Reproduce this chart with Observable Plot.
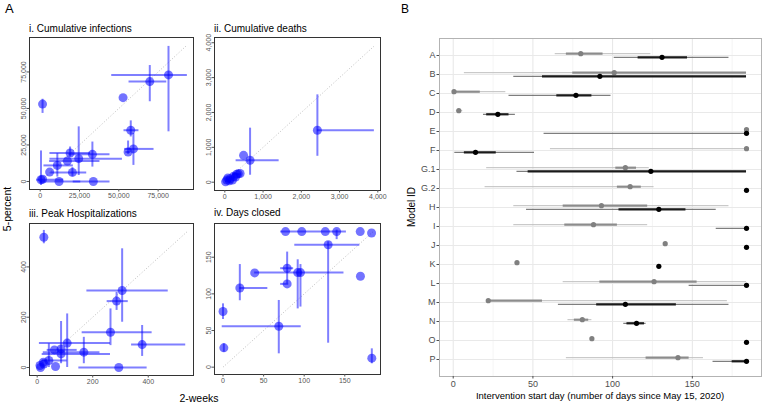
<!DOCTYPE html>
<html><head><meta charset="utf-8">
<script src="https://cdn.jsdelivr.net/npm/d3@7"></script>
<script src="https://cdn.jsdelivr.net/npm/@observablehq/plot@0.6"></script>
<style>
body{margin:0;background:#fff;}
#root{position:relative;width:764px;height:405px;overflow:hidden;background:#fff;font-family:"Liberation Sans",Arial,Helvetica,sans-serif;}
.lbl{position:absolute;white-space:nowrap;color:#000;line-height:1;}
</style></head><body><div id="root"></div>
<script>
// ---------- Panel A data ----------
const panelTitles = ["i. Cumulative infections", "ii. Cumulative deaths", "iii. Peak Hospitalizations", "iv. Days closed"];

// i. Cumulative infections (x = 2-weeks, y = 5-percent)
const iX   = [1500, 52700, 69700, 81600, 57600, 59300, 55900, 19000, 33200, 24500, 17300, 10900, 6000, 20500, 500, 12000, 33800, 1500];
const iY   = [53000, 57400, 68400, 73000, 35100, 22300, 20200, 19500, 18600, 15600, 14000, 11000, 6400, 6200, 1200, 0, 0, 1500];
const iXlo = [null, null, 56500, 45500, 53300, 53700, 54500, 6200, 18300, 6200, 6000, 2400, null, 6700, -2200, 300, 21000, null];
const iXhi = [null, null, 80500, 93600, 62800, 72400, 57500, 32100, 44400, 52300, 38000, 21100, null, 29600, 15000, 25800, 44400, null];
const iYlo = [46600, null, 54600, 34000, 30500, 11000, 18600, 16700, 9850, 4100, null, 3000, null, 3500, -2700, null, null, null];
const iYhi = [56300, null, 79400, 92500, 41500, 32800, 27700, 23600, 27000, 37400, null, 19000, null, 9500, 20900, null, null, null];

// ii. Cumulative deaths
const iiX   = [2420, 660, 490, 20, 50, 140, 230, 310, 400, 120, 80, 200, 280, 350];
const iiY   = [1490, 630, 770, 10, 60, 100, 170, 230, 250, 40, 120, 60, 150, 240];
const iiXlo = [2420, 295, null, null, null, null, null, 200, null, null, null, null, null, null];
const iiXhi = [3910, 1420, null, null, null, null, null, 430, null, null, null, null, null, null];
const iiYlo = [743, 200, null, null, null, null, 80, null, null, null, null, null, null, null];
const iiYhi = [2505, 1550, null, null, null, null, 260, null, null, null, null, null, null, null];

// iii. Peak Hospitalizations
const iiiX   = [24, 306, 286, 264, 378, 108, 168, 294, 86, 86, 62, 42, 66, 22, 12, 24, 10];
const iiiY   = [518, 306, 264, 140, 91, 97, 61, 0, 74, 54, 70, 28, 4, 21, 0, 14, 8];
const iiiXlo = [null, 179, 252, 162, 340, 8, 22, 150, null, 18, 36, 18, null, null, null, null, null];
const iiiXhi = [null, 472, 328, 414, 535, 264, 226, 396, null, 264, 144, 108, null, null, null, null, null];
const iiiYlo = [492, 180, 227, 87, 44, 0, 15, null, 15, null, null, 0, null, null, null, null, null];
const iiiYhi = [545, 472, 299, 233, 167, 213, 120, null, 183, null, null, 94, null, null, null, null, null];

// iv. Days closed
const ivX   = [77, 97, 126, 140, 169, 183, 129.5, 79, 79, 39, 92, 95.4, 20.7, 0, 1, 68.7, 169.3, 183.3];
const ivY   = [185, 185, 185, 185, 185, 183, 167, 135, 113.6, 128.6, 129, 129, 108, 76, 26.4, 55.9, 124, 12.3];
const ivXlo = [null, 71, null, null, null, null, 88.4, 71, 71, null, 39, null, 20.7, null, null, -1, null, null];
const ivXhi = [null, 152, null, null, null, null, 168.5, 87, 81, null, 149, null, 55.2, null, null, 96.3, null, null];
const ivYlo = [null, null, null, 174, null, null, 32.7, 113.6, null, null, 79.5, 82, 90.6, 65, 20.4, 18.2, null, 4.6];
const ivYhi = [null, null, null, 187, null, null, 171, 157, null, null, 146.5, 140, 140, 86.4, 32, 91, null, 25];

const ticksA = [[0, 25000, 50000, 75000], [0, 1000, 2000, 3000, 4000], [0, 200, 400], [0, 50, 100, 150]];
const diagMax = [93000, 3900, 540, 186];

// ---------- Panel B data ----------
const models = ["A","B","C","D","E","F","G.1","G.2","H","I","J","K","L","M","N","O","P"];
const gPt   = [80, 101, 0.5, 3.5, 184, 184, 108, 111, 93, 88, 133, 40, 126, 22, 81, 87, 141];
const gLo50 = [71, 75, 0.5, null, null, null, 102, 103, 69, 70, null, null, 92, 22, 76, null, 121];
const gHi50 = [94, 184, 17, null, null, null, 115, 118, 122, 103, null, null, 153, 56, 85, null, 148];
const gLo95 = [64, 7, 0.5, 2, null, 61, 21, 20, 38, 38, null, null, 69, 22, 72, null, 71];
const gHi95 = [124, 184, 33, 6, null, 184, 123, 126, 173, 122, null, null, 184, 172, 87, null, 157];
const kPt   = [131, 92, 77, 28, 184, 14, 124, 184, 129, 184, 184, 129, 184, 108, 115, 184, 184];
const kLo50 = [116, 56, 65, 21, null, 7, 47, null, 104, null, null, null, null, 90, 109, null, 175];
const kHi50 = [147, 184, 87, 35, null, 27, 184, null, 146, null, null, null, null, 140, 120, null, 184];
const kLo95 = [101, 38, 35, 19, 57, 1, 40, null, 46, 165, null, null, 148, 66, 107, null, 163];
const kHi95 = [173, 184, 99, 39, 184, 51, 184, null, 165, 184, null, null, 184, 173, 121, null, 184];
const bTicks = [0, 50, 100, 150];
const bMinor = [25, 75, 125, 175];

// ---------- layout ----------
const FONT = "'Liberation Sans', Arial, Helvetica, sans-serif";
const root = document.getElementById("root");
const fmt = d3.format(",");

function place(el, left, top) {
  el.style.position = "absolute";
  el.style.left = left + "px";
  el.style.top = top + "px";
  root.appendChild(el);
}
function label(text, {x, y, size, rotate = false, center = false}) {
  const d = document.createElement("div");
  d.className = "lbl";
  d.textContent = text;
  d.style.fontSize = size + "px";
  d.style.left = x + "px";
  d.style.top = y + "px";
  if (rotate) d.style.transform = "translate(-50%,-50%) rotate(-90deg)";
  else if (center) d.style.transform = "translateX(-50%)";
  root.appendChild(d);
}

const framesA = [[29, 193, 37, 189], [214, 380, 37, 190], [29, 193, 223, 375], [214, 380, 223, 374]];
const domainsA = [
  {x: [-6800, 97500], y: [-5500, 98600]},
  {x: [-270, 4070], y: [-238, 4150]},
  {x: [-27.7, 563], y: [-31.8, 572.6]},
  {x: [-10.5, 194], y: [-10, 196]}
];
const dataA = [
  [iX, iY, iXlo, iXhi, iYlo, iYhi],
  [iiX, iiY, iiXlo, iiXhi, iiYlo, iiYhi],
  [iiiX, iiiY, iiiXlo, iiiXhi, iiiYlo, iiiYhi],
  [ivX, ivY, ivXlo, ivXhi, ivYlo, ivYhi]
];

framesA.forEach((fr, k) => {
  const [x0, x1, y0, y1] = fr;
  const padL = 19, padR = 5, padT = 6, padB = 15;
  const [X, Y, Xlo, Xhi, Ylo, Yhi] = dataA[k];
  const idx = d3.range(X.length);
  const hb = idx.filter(i => Xlo[i] != null);
  const vb = idx.filter(i => Ylo[i] != null);
  const p = Plot.plot({
    width: x1 - x0 + padL + padR,
    height: y1 - y0 + padT + padB,
    marginLeft: padL, marginRight: padR, marginTop: padT, marginBottom: padB,
    style: {background: "transparent", fontFamily: FONT, fontSize: "7px", overflow: "visible"},
    x: {domain: domainsA[k].x},
    y: {domain: domainsA[k].y},
    marks: [
      Plot.link([diagMax[k]], {x1: () => 0, y1: () => 0, x2: d => d, y2: d => d, stroke: "#b5b5b5", strokeWidth: 0.9, strokeDasharray: "1,2"}),
      Plot.ruleY(hb, {y: i => Y[i], x1: i => Xlo[i], x2: i => Xhi[i], stroke: "#0000ff", strokeOpacity: 0.5, strokeWidth: 2}),
      Plot.ruleX(vb, {x: i => X[i], y1: i => Ylo[i], y2: i => Yhi[i], stroke: "#0000ff", strokeOpacity: 0.5, strokeWidth: 2}),
      Plot.dot(idx, {x: i => X[i], y: i => Y[i], r: 4.5, fill: "#0000ff", fillOpacity: 0.55}),
      Plot.frame({stroke: "#333", strokeWidth: 1}),
      Plot.axisX(ticksA[k], {tickFormat: fmt, tickSize: 2.5, tickPadding: 1.5, fontSize: 7, color: "#555", label: null}),
      Plot.axisY(ticksA[k], {tickFormat: fmt, tickSize: 2.5, tickPadding: 1.5, tickRotate: -90, fontSize: 7, color: "#555", label: null})
    ]
  });
  place(p, x0 - padL, y0 - padT);
});

// ---------- Panel B ----------
(function () {
  const x0 = 439, x1 = 761, y0 = 38, y1 = 376;
  const padL = 24, padR = 3, padT = 8, padB = 20;
  const idx = d3.range(models.length);
  const has = a => idx.filter(i => a[i] != null);
  const p = Plot.plot({
    width: x1 - x0 + padL + padR,
    height: y1 - y0 + padT + padB,
    marginLeft: padL, marginRight: padR, marginTop: padT, marginBottom: padB,
    style: {background: "transparent", fontFamily: FONT, fontSize: "9px", overflow: "visible"},
    x: {domain: [-8.6, 193.4]},
    y: {type: "point", domain: models, padding: 0.58},
    marks: [
      Plot.gridX(bMinor, {stroke: "#f1f1f1", strokeOpacity: 1, strokeWidth: 0.7}),
      Plot.gridX(bTicks, {stroke: "#e6e6e6", strokeOpacity: 1, strokeWidth: 1}),
      Plot.gridY(models, {stroke: "#e9e9e9", strokeOpacity: 1, strokeWidth: 1}),
      Plot.ruleY(has(gLo95), {y: i => models[i], x1: i => gLo95[i], x2: i => gHi95[i], dy: -1.8, stroke: "#bdbdbd", strokeWidth: 1}),
      Plot.ruleY(has(gLo50), {y: i => models[i], x1: i => gLo50[i], x2: i => gHi50[i], dy: -1.8, stroke: "#8c8c8c", strokeWidth: 2.2}),
      Plot.dot(idx, {x: i => gPt[i], y: i => models[i], dy: -1.8, r: 2.6, fill: "#808080"}),
      Plot.ruleY(has(kLo95), {y: i => models[i], x1: i => kLo95[i], x2: i => kHi95[i], dy: 1.8, stroke: "#5e5e5e", strokeWidth: 1}),
      Plot.ruleY(has(kLo50), {y: i => models[i], x1: i => kLo50[i], x2: i => kHi50[i], dy: 1.8, stroke: "#1a1a1a", strokeWidth: 2.2}),
      Plot.dot(idx, {x: i => kPt[i], y: i => models[i], dy: 1.8, r: 2.6, fill: "#000"}),
      Plot.frame({stroke: "#b3b3b3", strokeWidth: 1}),
      Plot.axisX(bTicks, {tickSize: 2.5, tickPadding: 2, fontSize: 9, color: "#4d4d4d", label: null}),
      Plot.axisY(models, {tickSize: 2.5, tickPadding: 1.5, fontSize: 9, color: "#4d4d4d", label: null})
    ]
  });
  place(p, x0 - padL, y0 - padT);
})();

// ---------- text ----------
label("A", {x: 5, y: 2, size: 13});
label("B", {x: 401, y: 3, size: 12});
label(panelTitles[0], {x: 29, y: 23.5, size: 10});
label(panelTitles[1], {x: 214, y: 23.5, size: 10});
label(panelTitles[2], {x: 29, y: 209, size: 10});
label(panelTitles[3], {x: 214, y: 208, size: 10});
label("5-percent", {x: 7, y: 209, size: 10.5, rotate: true});
label("2-weeks", {x: 199, y: 393, size: 10.5, center: true});
label("Model ID", {x: 412, y: 207, size: 10, rotate: true});
label("Intervention start day (number of days since May 15, 2020)", {x: 600, y: 390.5, size: 9.5, center: true});
</script></body></html>
